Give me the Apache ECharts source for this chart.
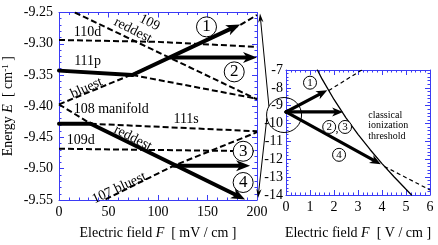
<!DOCTYPE html>
<html><head><meta charset="utf-8">
<script src="https://cdn.jsdelivr.net/npm/echarts@6/dist/echarts.min.js"></script>
<style>html,body{margin:0;padding:0;background:#fff}#c{width:438px;height:245px}</style>
</head><body><div id="c"></div>
<script>
// ---------- data ----------
// left panel: F [mV/cm], E [cm^-1]
const line110d       = [[0,-9.294],[100,-9.297],[200,-9.305]];
const line109reddest = [[16,-9.25],[200,-9.389]];
const line108bluest  = [[0,-9.397],[74,-9.349],[183,-9.27],[200,-9.254]];
const line111pDashed = [[74,-9.350],[200,-9.388]];
const line111pSolid  = [[0,-9.343],[74,-9.350]];
const line108reddest = [[0,-9.397],[32,-9.428]];
const line111sSolid  = [[0,-9.428],[32,-9.428]];
const line111sDashed = [[32,-9.428],[200,-9.440]];
const line109d       = [[0,-9.468],[200,-9.472]];
const line107bluest  = [[47,-9.549],[116,-9.495],[200,-9.4415]];
// arrows [F1,E1,F2,E2]
const leftArrows = [[74,-9.350,183,-9.269],[113,-9.322,200,-9.322],[116,-9.495,193,-9.495],[32,-9.428,188,-9.549]];
const leftCircles = [['1',149,-9.273],['2',177,-9.345],['3',186,-9.472],['4',186,-9.522]];
const leftTexts = [
  ['109',91.5,-9.2662,-27],['reddest',74.6,-9.2785,-27],['110d',28.9,-9.2815,0],['111p',28.9,-9.328,0],
  ['bluest',27.9,-9.3708,24],['108 manifold',52.7,-9.4046,0],['111s',128.4,-9.4205,0],
  ['109d',21.9,-9.4538,0],['reddest',74.6,-9.4508,-27],['107 bluest',60.7,-9.5308,25]
];
// right panel: F [V/cm], E [cm^-1]
const threshold   = [[1.31,-7],[1.5,-7.5],[2,-8.65],[2.5,-9.68],[3,-10.6],[3.5,-11.45],[4,-12.24],[4.5,-12.98],[5,-13.68],[5.23,-14]];
const dashUpper   = [[1.78,-8.15],[3.16,-7]];
const dashLower   = [[4.1,-12.4],[6,-13.72]];
const rightArrows = [[0,-9.35,1.72,-8.13],[0,-9.35,2.38,-9.35],[0,-9.35,3.95,-12.28]];
const rightCircles = [['1',1.0,-7.71],['2',1.8,-10.19],['3',2.46,-10.19],['4',2.21,-11.75]];
const bigCircle = [-0.08,-9.52];
const leftXTicks = {min:0,max:200,interval:50};
const leftYTicks = {min:-9.55,max:-9.25,interval:0.05};
const rightXTicks = {min:0,max:6,interval:1};
const rightYTicks = {min:-14,max:-7,interval:1};

// ---------- chart ----------
const FONT = 'Liberation Serif';
const AX = '#3b3bf5';
const chart = echarts.init(document.getElementById('c'));

function axis(kind, grid, pos, ticks, label, extra) {
  return Object.assign({
    type:'value', gridIndex:grid, position:pos,
    min:ticks.min, max:ticks.max, interval:ticks.interval,
    axisLine:{show:true, onZero:false, lineStyle:{color:AX, width:1}},
    axisTick:{show:true, inside:true, length:5, lineStyle:{color:AX, width:1}},
    minorTick:{show:true, splitNumber:5, length:2.5, lineStyle:{color:AX, width:1}},
    splitLine:{show:false}, minorSplitLine:{show:false},
    axisLabel:{show:label, color:'#000', fontFamily:FONT, fontSize:14, margin:5}
  }, extra||{});
}
const nameRich = {
  n:{fontFamily:FONT, fontSize:14, color:'#000'},
  i:{fontFamily:FONT, fontSize:14, color:'#000', fontStyle:'italic'},
  s:{fontFamily:FONT, fontSize:9, color:'#000', verticalAlign:'top', lineHeight:10}
};
const TXT = {color:'#000', fontFamily:FONT, textBorderWidth:0, textBorderColor:'transparent', textShadowBlur:0};

function arrowRender(headL, headW, lw) {
  return function(params, api) {
    const p1 = api.coord([api.value(0), api.value(1)]);
    const p2 = api.coord([api.value(2), api.value(3)]);
    const dx = p2[0]-p1[0], dy = p2[1]-p1[1], len = Math.hypot(dx,dy);
    const ux = dx/len, uy = dy/len, nx = -uy, ny = ux;
    const bx = p2[0]-ux*headL, by = p2[1]-uy*headL;
    const mx = p2[0]-ux*headL*0.72, my = p2[1]-uy*headL*0.72;
    return {type:'group', children:[
      {type:'line', shape:{x1:p1[0],y1:p1[1],x2:mx,y2:my}, style:{stroke:'#000', lineWidth:lw, lineCap:'round'}},
      {type:'polygon', shape:{points:[[p2[0],p2[1]],[bx+nx*headW,by+ny*headW],[mx,my],[bx-nx*headW,by-ny*headW]]}, style:{fill:'#000'}}
    ]};
  };
}
function dashed(data, xi, w, dash) {
  return {type:'line', xAxisIndex:xi, yAxisIndex:xi, data:data, symbol:'none', silent:true,
    lineStyle:{color:'#000', width:w, type:dash}, z:2};
}
function solid(data, xi, w) {
  return {type:'line', xAxisIndex:xi, yAxisIndex:xi, data:data, symbol:'none', silent:true,
    lineStyle:{color:'#000', width:w, type:'solid', cap:'round'}, z:3};
}
function circles(list, xi, size, fs) {
  return {type:'scatter', xAxisIndex:xi, yAxisIndex:xi, symbol:'circle', symbolSize:size, z:5, silent:true,
    itemStyle:{color:'#fff', borderColor:'#000', borderWidth:1, opacity:1},
    label:Object.assign({show:true, position:'inside', fontSize:fs, formatter:p=>p.data.t}, TXT),
    data:list.map(c=>({value:[c[1],c[2]], t:c[0]}))};
}
function texts(xi, items, lbl) {
  return {type:'scatter', xAxisIndex:xi, yAxisIndex:xi, symbolSize:0, z:6, silent:true,
    itemStyle:{opacity:1, color:'#000'},
    label:Object.assign({show:true}, TXT, lbl), data:items};
}

const option = {
  animation:false,
  grid:[
    {left:56, top:12.5, width:201, height:195},
    {left:286, top:70, width:144, height:131.7}
  ],
  xAxis:[
    axis('x',0,'bottom',leftXTicks,true,{name:'{n|Electric field }{i|F}{n|  [ mV / cm ]}', nameLocation:'middle', nameGap:26, nameTextStyle:{rich:nameRich}}),
    axis('x',0,'top',leftXTicks,false),
    axis('x',1,'bottom',rightXTicks,true,{name:'{n|Electric field }{i|F}{n|  [ V / cm ]}', nameLocation:'middle', nameGap:31, nameTextStyle:{rich:nameRich}}),
    axis('x',1,'top',rightXTicks,false)
  ],
  yAxis:[
    axis('y',0,'left',leftYTicks,true,{name:'{n|Energy }{i|E}{n|  [ cm}{s|-1}{n| ]}', nameLocation:'middle', nameGap:44, nameRotate:90, nameTextStyle:{rich:nameRich},
      axisLabel:{show:true, color:'#000', fontFamily:FONT, fontSize:14, margin:6, formatter:v=>v.toFixed(2)}}),
    axis('y',0,'right',leftYTicks,false),
    axis('y',1,'left',rightYTicks,true,{axisLabel:{show:true, color:'#000', fontFamily:FONT, fontSize:14, margin:3}}),
    axis('y',1,'right',rightYTicks,false)
  ],
  series:[
    dashed(line110d,0,2,[6,3]),
    dashed(line109reddest,0,2,[6,3]),
    dashed(line108bluest,0,2,[6,3]),
    dashed(line111pDashed,0,2,[6,3]),
    dashed(line108reddest,0,2,[6,3]),
    dashed(line111sDashed,0,2,[6,3]),
    dashed(line109d,0,2,[6,3]),
    dashed(line107bluest,0,2,[6,3]),
    solid(line111pSolid,0,4),
    solid(line111sSolid,0,4),
    {type:'custom', xAxisIndex:0, yAxisIndex:0, renderItem:arrowRender(14,5.5,4), data:leftArrows, encode:{x:[0,2], y:[1,3]}, z:4, silent:true},
    circles(leftCircles,0,20,17),
    texts(0, leftTexts.map(t=>({value:[t[1],t[2]], label:{formatter:t[0], rotate:t[3]}})), {position:'inside', fontSize:14}),
    // right panel
    solid(threshold,2,1.3),
    dashed(dashUpper,2,1.2,[4,3]),
    dashed(dashLower,2,1.2,[4,3]),
    {type:'custom', xAxisIndex:2, yAxisIndex:2, renderItem:arrowRender(11,4.5,3.2), data:rightArrows, encode:{x:[0,2], y:[1,3]}, z:4, silent:true},
    circles(rightCircles,2,13,11),
    texts(2, [{value:[2.13,-10.3], label:{formatter:','}}], {position:'inside', fontSize:12}),
    texts(2, [{value:[3.43,-10.11], label:{formatter:'classical\nionization\nthreshold'}}], {position:'right', distance:0, fontSize:10, lineHeight:10.5}),
    {type:'scatter', xAxisIndex:2, yAxisIndex:2, clip:false, symbol:'circle', symbolSize:35, z:5, silent:true,
      itemStyle:{color:'rgba(0,0,0,0)', borderColor:'#000', borderWidth:1, opacity:1},
      data:[bigCircle]}
  ]
};
chart.setOption(option);

// thin connector arrows from circle to left panel corners
const cPix = chart.convertToPixel({xAxisIndex:2, yAxisIndex:2}, bigCircle);
const topC = chart.convertToPixel({xAxisIndex:0, yAxisIndex:0}, [200,-9.25]);
const botC = chart.convertToPixel({xAxisIndex:0, yAxisIndex:0}, [200,-9.55]);
const R = 17.5, dg = Math.PI/180;
function thinArrow(s, t) {
  const dx=t[0]-s[0], dy=t[1]-s[1], L=Math.hypot(dx,dy), ux=dx/L, uy=dy/L, nx=-uy, ny=ux;
  const hl=9, hw=2.6;
  const b=[t[0]-ux*hl, t[1]-uy*hl], m=[t[0]-ux*hl*0.7, t[1]-uy*hl*0.7];
  return [
    {type:'line', shape:{x1:s[0],y1:s[1],x2:m[0],y2:m[1]}, style:{stroke:'#000', lineWidth:1}, z:10},
    {type:'polygon', shape:{points:[t,[b[0]+nx*hw,b[1]+ny*hw],m,[b[0]-nx*hw,b[1]-ny*hw]]}, style:{fill:'#000'}, z:10}
  ];
}
const sTop = [cPix[0]-R*Math.cos(30*dg), cPix[1]-R*Math.sin(30*dg)];
const sBot = [cPix[0]-R*Math.cos(10*dg), cPix[1]+R*Math.sin(10*dg)];
chart.setOption({graphic:{elements:[].concat(
  thinArrow(sTop,[topC[0]+3, topC[1]+1]),
  thinArrow(sBot,[botC[0]+1, botC[1]-2])
)}});
</script></body></html>
